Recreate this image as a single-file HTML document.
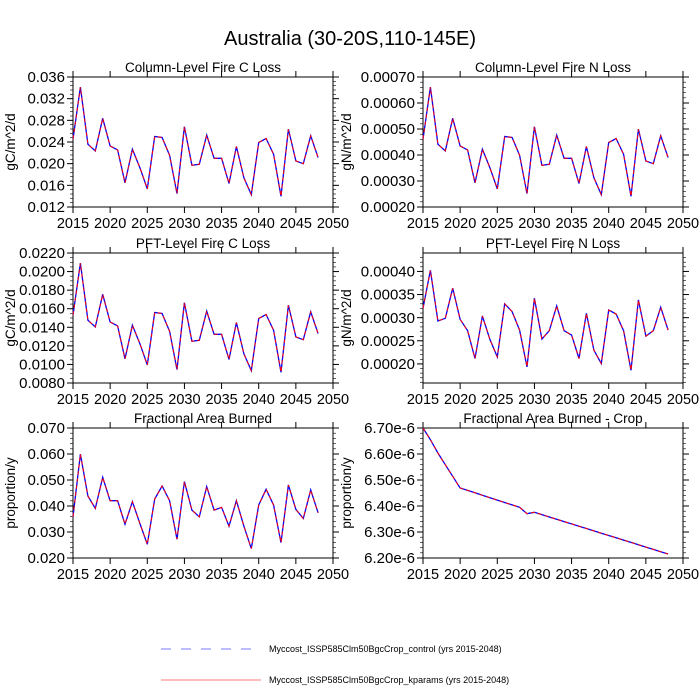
<!DOCTYPE html>
<html><head><meta charset="utf-8"><style>
body{margin:0;background:#fff;}
svg{display:block;font-family:"Liberation Sans",Arial,sans-serif;}
</style></head><body>
<svg id="s" width="700" height="700" viewBox="0 0 700 700" xmlns="http://www.w3.org/2000/svg">
<rect width="700" height="700" fill="#fff"/>
<text x="350" y="45" font-size="20" text-anchor="middle">Australia (30-20S,110-145E)</text>
<line x1="161" y1="649" x2="255" y2="649" stroke="#0000ff" stroke-width="0.8" stroke-dasharray="10,10" stroke-opacity="0.7"/>
<text x="269" y="652" font-size="9">Myccost_ISSP585Clm50BgcCrop_control (yrs 2015-2048)</text>
<line x1="161" y1="680" x2="261" y2="680" stroke="#ff0000" stroke-width="0.8" stroke-opacity="0.7"/>
<text x="269" y="683" font-size="9">Myccost_ISSP585Clm50BgcCrop_kparams (yrs 2015-2048)</text>
</svg>
<script>
var s=document.getElementById('s'),NS='http://www.w3.org/2000/svg';
function el(t,a,txt){var e=document.createElementNS(NS,t);for(var k in a)e.setAttribute(k,a[k]);if(txt!=null)e.textContent=txt;s.appendChild(e);return e;}
var p1=[270,115,285,305,208,290,302,400,300,355,418,262,265,318,432,233,348,345,258,327,327,402,292,385,435,280,268,315,440,240,335,343,260,325].map(function(z){return (z-85)/387;});
var p5=[290,103,228,265,172,242,242,312,245,310,372,237,198,242,357,185,270,290,200,270,262,318,242,318,385,255,208,255,367,195,268,295,210,278].map(function(z){return (z-25)/388;});
var p4=[205,92,243,235,145,238,272,355,228,298,350,192,215,270,380,175,297,272,198,272,285,355,220,330,370,210,222,272,390,180,288,272,202,270].map(function(z){return (z-40)/388;});
var p6=[];(function(){var k=[[2015,85],[2016,120],[2017,160],[2020,265],[2028,323],[2029,342],[2030,338],[2048,463]];
for(var y=2015;y<=2048;y++){for(var i=0;i<k.length-1;i++){if(y>=k[i][0]&&y<=k[i+1][0]){var t=(y-k[i][0])/(k[i+1][0]-k[i][0]);p6.push(((k[i][1]+t*(k[i+1][1]-k[i][1]))-85)/390);break;}}}})();
var panels=[
{x:73,y:77,t:"Column-Level Fire C Loss",yl:"gC/m^2/d",lab:["0.036","0.032","0.028","0.024","0.020","0.016","0.012"],lf:[0,1/6,2/6,3/6,4/6,5/6,1],d:p1,minor:4},
{x:423,y:77,t:"Column-Level Fire N Loss",yl:"gN/m^2/d",lab:["0.00070","0.00060","0.00050","0.00040","0.00030","0.00020"],lf:[0,.2,.4,.6,.8,1],d:p1,minor:4},
{x:73,y:253,t:"PFT-Level Fire C Loss",yl:"gC/m^2/d",lab:["0.0220","0.0200","0.0180","0.0160","0.0140","0.0120","0.0100","0.0080"],lf:[0,1/7,2/7,3/7,4/7,5/7,6/7,1],d:p1,minor:3},
{x:423,y:253,t:"PFT-Level Fire N Loss",yl:"gN/m^2/d",lab:["0.00040","0.00035","0.00030","0.00025","0.00020"],lf:[55/388,124/388,194/388,263/388,332/388],d:p4,minor:4},
{x:73,y:428,t:"Fractional Area Burned",yl:"proportion/y",lab:["0.070","0.060","0.050","0.040","0.030","0.020"],lf:[0,.2,.4,.6,.8,1],d:p5,minor:4},
{x:423,y:428,t:"Fractional Area Burned - Crop",yl:"proportion/y",lab:["6.70e-6","6.60e-6","6.50e-6","6.40e-6","6.30e-6","6.20e-6"],lf:[0,.2,.4,.6,.8,1],d:p6,minor:4}];
var W=260,H=130,X0=2015,X1=2050;
panels.forEach(function(p){
 el('text',{x:p.x+W/2,y:p.y-5,'font-size':13.5,'text-anchor':'middle'},p.t);
 el('rect',{x:p.x,y:p.y,width:W,height:H,fill:'none',stroke:'#000','stroke-width':1});
 for(var yr=2015;yr<=2050;yr+=5){var xx=p.x+(yr-X0)/(X1-X0)*W;
  el('line',{x1:xx,y1:p.y+H,x2:xx,y2:p.y+H+6,stroke:'#000'});el('line',{x1:xx,y1:p.y,x2:xx,y2:p.y-6,stroke:'#000'});
  el('text',{x:xx,y:p.y+H+21,'font-size':14.5,'text-anchor':'middle'},String(yr));}
 var step=p.lf[1]-p.lf[0];
 var st=p.lf[0]-step*Math.floor(p.lf[0]/step+1e-6);
 for(var f=st;f<=1.0001;f+=step){var yy=p.y+f*H;
  el('line',{x1:p.x,y1:yy,x2:p.x-6,y2:yy,stroke:'#000'});el('line',{x1:p.x+W,y1:yy,x2:p.x+W+6,y2:yy,stroke:'#000'});}
 var ms=step/(p.minor+1);var mst=p.lf[0]-ms*Math.floor(p.lf[0]/ms+1e-6);
 for(var f=mst;f<=1.0001;f+=ms){var yy=p.y+f*H;
  el('line',{x1:p.x,y1:yy,x2:p.x-3,y2:yy,stroke:'#000','stroke-width':0.6});el('line',{x1:p.x+W,y1:yy,x2:p.x+W+3,y2:yy,stroke:'#000','stroke-width':0.6});}
 p.lab.forEach(function(l,i){el('text',{x:p.x-8,y:p.y+p.lf[i]*H+5,'font-size':15,'text-anchor':'end'},l);});
 el('text',{x:0,y:0,'font-size':13.5,'text-anchor':'middle',transform:'translate('+(p.x-(p.x>400?72:58))+','+(p.y+H/2)+') rotate(-90)'},p.yl);
 var pts=p.d.map(function(f,i){return (p.x+i/35*W).toFixed(1)+','+(p.y+f*H).toFixed(1);}).join(' ');
 el('polyline',{points:pts,fill:'none',stroke:'#0000ff','stroke-width':1.3});
 el('polyline',{points:pts,fill:'none',stroke:'#ff0000','stroke-width':1,'stroke-dasharray':'4,3'});
});
</script>
</body></html>
